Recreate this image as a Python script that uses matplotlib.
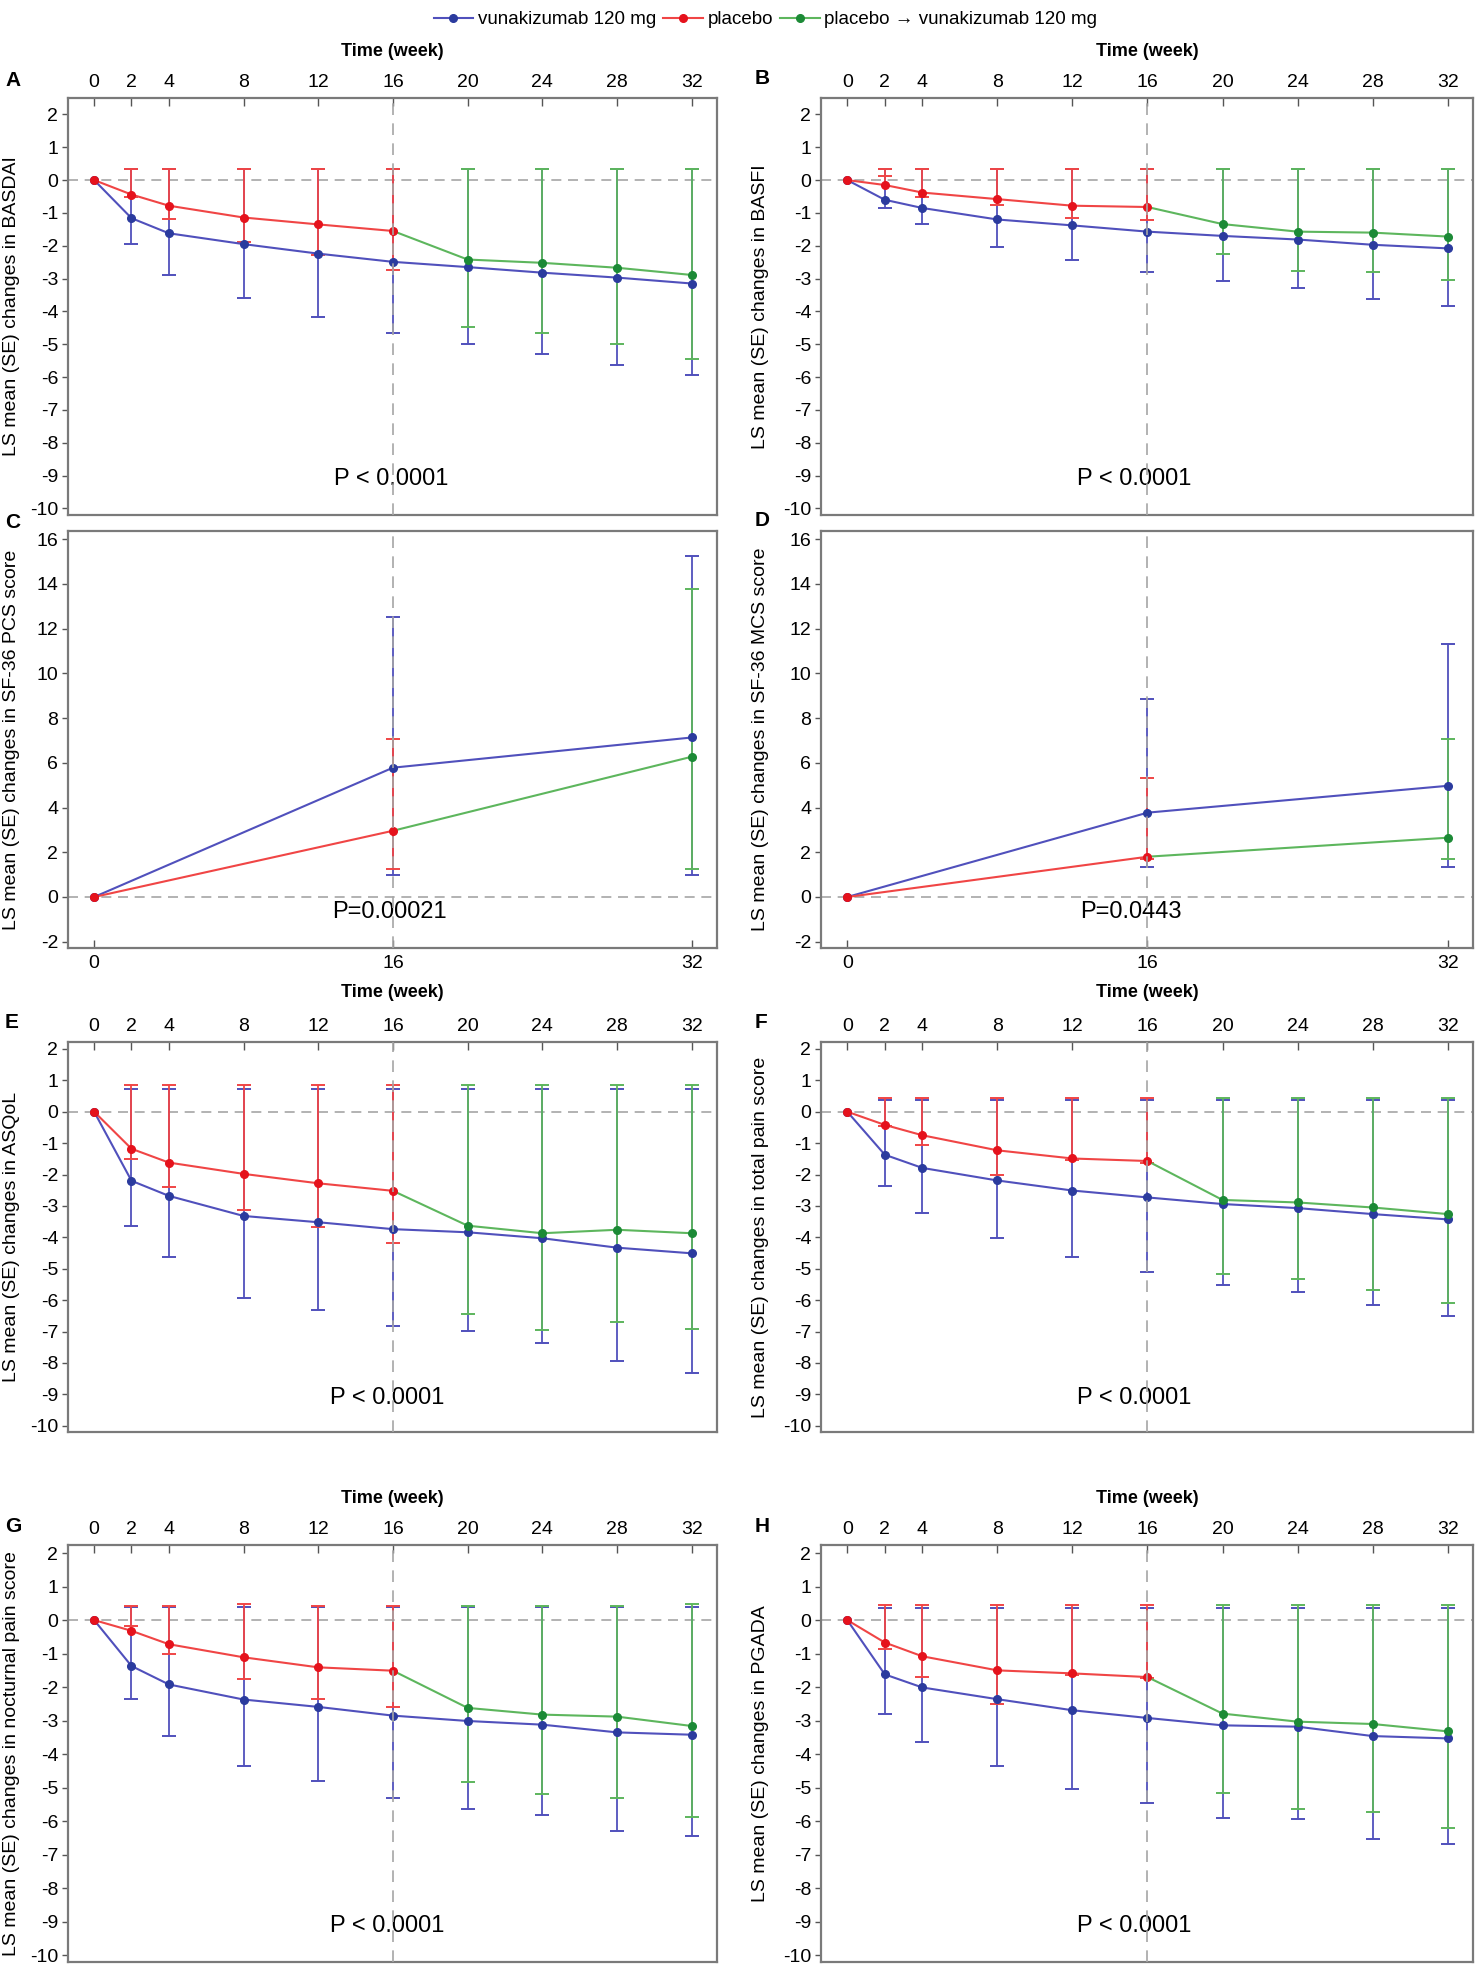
import numpy as np
import matplotlib
matplotlib.use('Agg')
import matplotlib.pyplot as plt
from matplotlib.lines import Line2D

plt.rcParams['axes.unicode_minus'] = False
plt.rcParams['font.family'] = ['Liberation Sans', 'DejaVu Sans']

nan = np.nan

weeks = [0, 2, 4, 8, 12, 16, 20, 24, 28, 32]
weeks_pbo = [0, 2, 4, 8, 12, 16]
weeks_switch = [20, 24, 28, 32]
weeks_sf = [0, 16, 32]
weeks_sf_pbo = [0, 16]
weeks_sf_switch = [32]

# A - BASDAI
basdai_vuna = [0, -1.16, -1.62, -1.95, -2.24, -2.49, -2.65, -2.82, -2.97, -3.15]
basdai_vuna_lo = [nan, -1.95, -2.90, -3.59, -4.17, -4.66, -4.98, -5.31, -5.64, -5.94]
basdai_vuna_hi = [nan, 0.34, 0.34, 0.34, 0.34, 0.34, 0.34, 0.34, 0.34, 0.34]
basdai_pbo = [0, -0.44, -0.78, -1.14, -1.35, -1.55]
basdai_pbo_lo = [nan, -0.50, -1.17, -1.89, -2.29, -2.74]
basdai_pbo_hi = [nan, 0.35, 0.35, 0.35, 0.35, 0.35]
basdai_sw = [-2.42, -2.52, -2.67, -2.89]
basdai_sw_lo = [-4.46, -4.66, -4.98, -5.44]
basdai_sw_hi = [0.35, 0.35, 0.35, 0.35]

# B - BASFI
basfi_vuna = [0, -0.60, -0.85, -1.20, -1.38, -1.57, -1.70, -1.81, -1.97, -2.08]
basfi_vuna_lo = [nan, -0.84, -1.35, -2.04, -2.44, -2.80, -3.07, -3.29, -3.61, -3.83]
basfi_vuna_hi = [nan, 0.34, 0.34, 0.34, 0.34, 0.34, 0.34, 0.34, 0.34, 0.34]
basfi_pbo = [0, -0.15, -0.38, -0.58, -0.78, -0.82]
basfi_pbo_lo = [nan, 0.12, -0.50, -0.76, -1.14, -1.22]
basfi_pbo_hi = [nan, 0.35, 0.35, 0.35, 0.35, 0.35]
basfi_sw = [-1.34, -1.57, -1.60, -1.72]
basfi_sw_lo = [-2.25, -2.77, -2.80, -3.05]
basfi_sw_hi = [0.35, 0.35, 0.35, 0.35]

# C - SF-36 PCS
pcs_vuna = [0, 5.78, 7.13]
pcs_vuna_lo = [nan, 0.97, 0.97]
pcs_vuna_hi = [nan, 12.52, 15.25]
pcs_pbo = [0, 2.96]
pcs_pbo_lo = [nan, 1.24]
pcs_pbo_hi = [nan, 7.07]
pcs_sw = [6.27]
pcs_sw_lo = [1.24]
pcs_sw_hi = [13.78]

# D - SF-36 MCS
mcs_vuna = [0, 3.77, 4.97]
mcs_vuna_lo = [nan, 1.33, 1.33]
mcs_vuna_hi = [nan, 8.86, 11.30]
mcs_pbo = [0, 1.80]
mcs_pbo_lo = [nan, 1.70]
mcs_pbo_hi = [nan, 5.30]
mcs_sw = [2.65]
mcs_sw_lo = [1.68]
mcs_sw_hi = [7.05]

# E - ASQoL
asqol_vuna = [0, -2.20, -2.68, -3.32, -3.52, -3.74, -3.84, -4.03, -4.33, -4.51]
asqol_vuna_lo = [nan, -3.63, -4.63, -5.92, -6.31, -6.81, -6.97, -7.37, -7.95, -8.32]
asqol_vuna_hi = [nan, 0.71, 0.71, 0.71, 0.71, 0.71, 0.71, 0.71, 0.71, 0.71]
asqol_pbo = [0, -1.18, -1.62, -1.98, -2.28, -2.52]
asqol_pbo_lo = [nan, -1.51, -2.39, -3.13, -3.68, -4.19]
asqol_pbo_hi = [nan, 0.85, 0.85, 0.85, 0.85, 0.85]
asqol_sw = [-3.63, -3.87, -3.76, -3.87]
asqol_sw_lo = [-6.44, -6.95, -6.71, -6.91]
asqol_sw_hi = [0.85, 0.85, 0.85, 0.85]

# F - total pain
tpain_vuna = [0, -1.37, -1.79, -2.19, -2.51, -2.73, -2.94, -3.07, -3.26, -3.43]
tpain_vuna_lo = [nan, -2.36, -3.21, -4.01, -4.63, -5.10, -5.51, -5.74, -6.16, -6.49]
tpain_vuna_hi = [nan, 0.36, 0.36, 0.36, 0.36, 0.36, 0.36, 0.36, 0.36, 0.36]
tpain_pbo = [0, -0.42, -0.75, -1.23, -1.49, -1.57]
tpain_pbo_lo = [nan, -0.45, -1.05, -2.00, -1.55, -1.63]
tpain_pbo_hi = [nan, 0.43, 0.43, 0.43, 0.43, 0.43]
tpain_sw = [-2.81, -2.89, -3.05, -3.26]
tpain_sw_lo = [-5.17, -5.32, -5.67, -6.10]
tpain_sw_hi = [0.43, 0.43, 0.43, 0.43]

# G - nocturnal pain
npain_vuna = [0, -1.37, -1.92, -2.37, -2.59, -2.85, -3.01, -3.12, -3.35, -3.42]
npain_vuna_lo = [nan, -2.36, -3.46, -4.35, -4.79, -5.30, -5.64, -5.81, -6.28, -6.45]
npain_vuna_hi = [nan, 0.40, 0.40, 0.40, 0.40, 0.40, 0.40, 0.40, 0.40, 0.40]
npain_pbo = [0, -0.32, -0.72, -1.11, -1.41, -1.51]
npain_pbo_lo = [nan, -0.17, -1.00, -1.77, -2.34, -2.59]
npain_pbo_hi = [nan, 0.43, 0.43, 0.47, 0.43, 0.43]
npain_sw = [-2.62, -2.82, -2.88, -3.16]
npain_sw_lo = [-4.82, -5.20, -5.32, -5.88]
npain_sw_hi = [0.43, 0.43, 0.43, 0.47]

# H - PGADA
pgada_vuna = [0, -1.62, -2.01, -2.36, -2.69, -2.92, -3.14, -3.18, -3.46, -3.53]
pgada_vuna_lo = [nan, -2.81, -3.64, -4.34, -5.03, -5.46, -5.89, -5.94, -6.54, -6.68]
pgada_vuna_hi = [nan, 0.37, 0.37, 0.37, 0.37, 0.37, 0.37, 0.37, 0.37, 0.37]
pgada_pbo = [0, -0.67, -1.08, -1.50, -1.59, -1.70]
pgada_pbo_lo = [nan, -0.87, -1.69, -2.51, -1.65, -1.74]
pgada_pbo_hi = [nan, 0.45, 0.45, 0.45, 0.45, 0.45]
pgada_sw = [-2.79, -3.03, -3.10, -3.32]
pgada_sw_lo = [-5.16, -5.64, -5.74, -6.21]
pgada_sw_hi = [0.45, 0.45, 0.45, 0.45]

legend_labels = ['vunakizumab 120 mg', 'placebo', 'placebo \u2192 vunakizumab 120 mg']

BLUE, BLUE_DOT = '#5050bc', '#2b3b9e'
RED, RED_DOT = '#f04545', '#e5121c'
GREEN, GREEN_DOT = '#5db65d', '#1c8a36'
GRAY = '#a6a6a6'

W, H = 1475, 1966


def px_axes(x0, y0, x1, y1):
    return [x0 / W, 1 - y1 / H, (x1 - x0) / W, (y1 - y0) / H]


def err(ax, x, m, lo, hi, color):
    x, m, lo, hi = map(np.asarray, (x, m, lo, hi))
    ok = ~np.isnan(lo)
    x, m, lo, hi = x[ok], m[ok], lo[ok], hi[ok]
    ax.vlines(x, np.minimum(lo, m), hi, color=color, lw=1.3, zorder=2)
    ax.plot(x, lo, ls='none', marker='_', ms=10, mew=1.4, color=color, zorder=2)
    ax.plot(x, hi, ls='none', marker='_', ms=10, mew=1.4, color=color, zorder=2)


def panel(ax, wk, wk_p, wk_s, v, vlo, vhi, p, plo, phi, s, slo, shi):
    err(ax, wk, v, vlo, vhi, BLUE)
    err(ax, wk_p, p, plo, phi, RED)
    err(ax, wk_s, s, slo, shi, GREEN)
    ax.plot(wk, v, color=BLUE, lw=1.5, zorder=3)
    ax.plot(wk_p, p, color=RED, lw=1.5, zorder=3)
    ax.plot([wk_p[-1]] + list(wk_s), [p[-1]] + list(s), color=GREEN, lw=1.5, zorder=3)
    ax.plot(wk, v, ls='none', marker='o', ms=5.5, color=BLUE_DOT, zorder=4)
    ax.plot(wk_p, p, ls='none', marker='o', ms=5.5, color=RED_DOT, zorder=4)
    ax.plot(wk_s, s, ls='none', marker='o', ms=5.5, color=GREEN_DOT, zorder=4)
    ax.axhline(0, color=GRAY, lw=1.2, ls=(0, (6, 4)), zorder=1)
    ax.axvline(16, color=GRAY, lw=1.2, ls=(0, (7, 5)), zorder=5)
    ax.set_xlim(-1.4, 33.35)
    for sp in ax.spines.values():
        sp.set_color('#7a7a7a')
        sp.set_linewidth(1.6)
    ax.tick_params(axis='y', direction='out', length=4, width=1, color='#555555',
                   labelsize=14, pad=3)
    ax.tick_params(axis='x', direction='in', length=6, width=1, color='#555555',
                   labelsize=14, pad=5)


fig = plt.figure(figsize=(W / 100, H / 100), dpi=100)

left_x = (68, 717)
right_x = (821, 1473)
rows = [(98, 515), (531, 948), (1042, 1432), (1545, 1962)]

panels = [
    ('A', left_x, rows[0], 'long', 'BASDAI',
     (basdai_vuna, basdai_vuna_lo, basdai_vuna_hi, basdai_pbo, basdai_pbo_lo, basdai_pbo_hi,
      basdai_sw, basdai_sw_lo, basdai_sw_hi), 'P < 0.0001', 15.9),
    ('B', right_x, rows[0], 'long', 'BASFI',
     (basfi_vuna, basfi_vuna_lo, basfi_vuna_hi, basfi_pbo, basfi_pbo_lo, basfi_pbo_hi,
      basfi_sw, basfi_sw_lo, basfi_sw_hi), 'P < 0.0001', 15.3),
    ('C', left_x, rows[1], 'sf', 'SF-36 PCS score',
     (pcs_vuna, pcs_vuna_lo, pcs_vuna_hi, pcs_pbo, pcs_pbo_lo, pcs_pbo_hi,
      pcs_sw, pcs_sw_lo, pcs_sw_hi), 'P=0.00021', 15.8),
    ('D', right_x, rows[1], 'sf', 'SF-36 MCS score',
     (mcs_vuna, mcs_vuna_lo, mcs_vuna_hi, mcs_pbo, mcs_pbo_lo, mcs_pbo_hi,
      mcs_sw, mcs_sw_lo, mcs_sw_hi), 'P=0.0443', 15.1),
    ('E', left_x, rows[2], 'long', 'ASQoL',
     (asqol_vuna, asqol_vuna_lo, asqol_vuna_hi, asqol_pbo, asqol_pbo_lo, asqol_pbo_hi,
      asqol_sw, asqol_sw_lo, asqol_sw_hi), 'P < 0.0001', 15.7),
    ('F', right_x, rows[2], 'long', 'total pain score',
     (tpain_vuna, tpain_vuna_lo, tpain_vuna_hi, tpain_pbo, tpain_pbo_lo, tpain_pbo_hi,
      tpain_sw, tpain_sw_lo, tpain_sw_hi), 'P < 0.0001', 15.3),
    ('G', left_x, rows[3], 'long', 'nocturnal pain score',
     (npain_vuna, npain_vuna_lo, npain_vuna_hi, npain_pbo, npain_pbo_lo, npain_pbo_hi,
      npain_sw, npain_sw_lo, npain_sw_hi), 'P < 0.0001', 15.7),
    ('H', right_x, rows[3], 'long', 'PGADA',
     (pgada_vuna, pgada_vuna_lo, pgada_vuna_hi, pgada_pbo, pgada_pbo_lo, pgada_pbo_hi,
      pgada_sw, pgada_sw_lo, pgada_sw_hi), 'P < 0.0001', 15.3),
]

for letter, (x0, x1), (y0, y1), kind, name, data, ptxt, px in panels:
    ax = fig.add_axes(px_axes(x0, y0, x1, y1))
    if kind == 'sf':
        panel(ax, weeks_sf, weeks_sf_pbo, weeks_sf_switch, *data)
        ax.set_ylim(-2.28, 16.36)
        ax.set_yticks(range(-2, 17, 2))
        ax.set_xticks(weeks_sf)
        ax.set_xlabel('Time (week)', fontsize=13, fontweight='bold', labelpad=9)
    else:
        panel(ax, weeks, weeks_pbo, weeks_switch, *data)
        top = 2.5
        if letter in 'EF':
            top = 2.22
        elif letter in 'GH':
            top = 2.24
        ax.set_ylim(-10.2, top)
        ax.set_yticks(range(-10, 3))
        ax.set_xticks(weeks)
        ax.xaxis.tick_top()
        if letter in 'ABGH':
            ax.xaxis.set_label_position('top')
            ax.set_xlabel('Time (week)', fontsize=13, fontweight='bold', labelpad=13)
    ax.set_ylabel('LS mean (SE) changes in ' + name, fontsize=14)
    lx = 20 if x0 < 400 else 769
    ax.yaxis.set_label_coords((lx - x0) / (x1 - x0), 0.5)
    ax.text(px, 0.06, ptxt, transform=ax.get_xaxis_transform(), ha='center',
            va='bottom', fontsize=17)
    ly = {'A': 80, 'B': 78, 'C': 522, 'D': 520, 'E': 1023, 'F': 1023, 'G': 1527, 'H': 1527}[letter]
    fx = 5 if x0 < 400 else 755
    fig.text(fx / W, 1 - ly / H, letter, fontsize=15, fontweight='bold',
             ha='left', va='center')

handles = [
    Line2D([], [], color=BLUE, lw=1.5, marker='o', ms=5.5, mfc=BLUE_DOT, mec=BLUE_DOT),
    Line2D([], [], color=RED, lw=1.5, marker='o', ms=5.5, mfc=RED_DOT, mec=RED_DOT),
    Line2D([], [], color=GREEN, lw=1.5, marker='o', ms=5.5, mfc=GREEN_DOT, mec=GREEN_DOT),
]
fig.legend(handles, legend_labels, loc='upper center', bbox_to_anchor=(0.519, 1.003),
           ncol=3, frameon=False, fontsize=13.5, handlelength=2.1, handletextpad=0.25,
           columnspacing=0.4)

fig.savefig('out.png', dpi=100)
